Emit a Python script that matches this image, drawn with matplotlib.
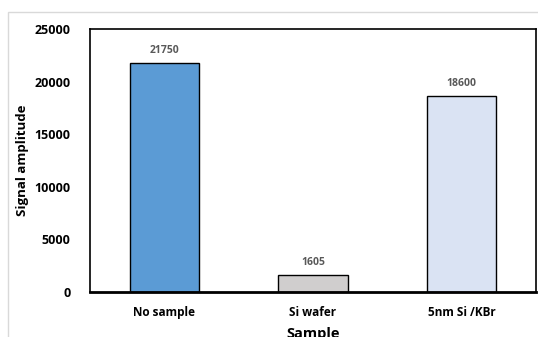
import matplotlib.pyplot as plt
from matplotlib.patches import Rectangle

samples = ["No sample", "Si wafer", "5nm Si /KBr"]
amplitude = [21750, 1605, 18600]
colors = ["#5B9BD5", "#D0CECE", "#DAE3F3"]
yticks = [0, 5000, 10000, 15000, 20000, 25000]

plt.rcParams['font.family'] = ['Open Sans', 'DejaVu Sans']

fig = plt.figure(figsize=(5.38, 3.37), dpi=100)
# outer chart border (light gray, runs off the bottom/right)
fig.patches.append(Rectangle((8 / 538, -0.1), 1.2, 1 - 12 / 337 + 0.1,
                             transform=fig.transFigure, fill=False,
                             edgecolor="#D9D9D9", linewidth=1.0))

ax = fig.add_axes([90 / 538, 1 - 292 / 337, (536 - 90) / 538, (292 - 29) / 337])
x = range(len(samples))
bars = ax.bar(x, amplitude, width=0.465, color=colors, edgecolor="black", linewidth=1.0, zorder=2)

for b, v in zip(bars, amplitude):
    ax.annotate(str(v), (b.get_x() + b.get_width() / 2, v), xytext=(0, 5),
                textcoords="offset points", ha="center", va="bottom",
                fontsize=7.5, fontweight="bold", color="#595959")

ax.set_xlim(-0.5, 2.5)
ax.set_ylim(0, 25000)
ax.set_yticks(yticks)
ax.set_yticklabels([str(t) for t in yticks], fontsize=9, fontweight="bold")
ax.set_xticks(list(x))
ax.set_xticklabels(samples, fontsize=8.5, fontweight="bold")
ax.tick_params(length=0, pad=10)
ax.tick_params(axis="y", pad=14)
for s in ax.spines.values():
    s.set_linewidth(1.2)
ax.spines["bottom"].set_linewidth(2)

ax.set_ylabel("Signal amplitude", fontsize=9.5, fontweight="bold", labelpad=4)
ax.set_xlabel("Sample", fontsize=10.5, fontweight="bold", labelpad=6)

fig.savefig("out.png", dpi=100)
